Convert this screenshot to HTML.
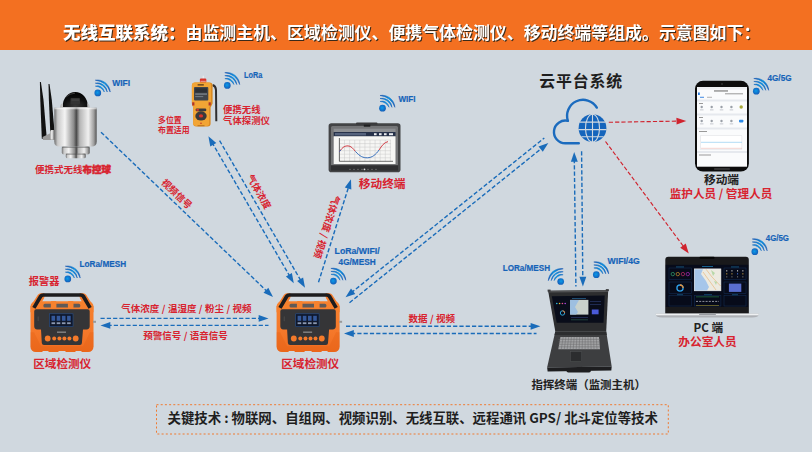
<!DOCTYPE html>
<html lang="zh-CN"><head><meta charset="utf-8"><title>无线互联系统</title>
<style>
html,body{margin:0;padding:0;background:#D0D8DF;}
body{width:812px;height:452px;overflow:hidden;position:relative;font-family:"Liberation Sans","Noto Sans CJK SC",sans-serif;}
svg{display:block;position:absolute;left:0;top:0}
</style></head><body>
<svg width="812" height="452" viewBox="0 0 812 452">
<defs>
<radialGradient id="wg" cx="0.45" cy="0.45" r="0.6"><stop offset="0" stop-color="#0A9BEA"/><stop offset="1" stop-color="#1458B4"/></radialGradient>
<linearGradient id="wa" gradientUnits="userSpaceOnUse" x1="-2" y1="-11" x2="11" y2="-1"><stop offset="0" stop-color="#1558B2"/><stop offset="0.5" stop-color="#0C8CDC"/><stop offset="1" stop-color="#1558B2"/></linearGradient>
<linearGradient id="sil" x1="0" x2="1" y1="0" y2="0"><stop offset="0" stop-color="#6e6e6e"/><stop offset="0.08" stop-color="#c9c9c9"/><stop offset="0.25" stop-color="#f4f4f4"/><stop offset="0.46" stop-color="#8a8a8a"/><stop offset="0.52" stop-color="#4a4a4a"/><stop offset="0.6" stop-color="#b5b5b5"/><stop offset="0.8" stop-color="#f0f0f0"/><stop offset="0.93" stop-color="#a0a0a0"/><stop offset="1" stop-color="#555"/></linearGradient>
<linearGradient id="org" x1="0" x2="0" y1="0" y2="1"><stop offset="0" stop-color="#F6822E"/><stop offset="0.6" stop-color="#F5782A"/><stop offset="1" stop-color="#EF6C20"/></linearGradient>
<radialGradient id="dome" cx="0.5" cy="0.9" r="0.9"><stop offset="0" stop-color="#3a3a3a"/><stop offset="0.5" stop-color="#111"/><stop offset="1" stop-color="#000"/></radialGradient>
</defs>
<rect x="0" y="0" width="812" height="50" fill="#F37021"/>
<text x="63" y="38.8" fill="#fff" style="filter:drop-shadow(1.1px 1.1px 0px #3a2a1a)" font-family='"Noto Sans CJK SC","Liberation Sans",sans-serif'><tspan font-size="17.5" font-weight="900">无线互联系统：</tspan><tspan font-size="16.92" font-weight="700">由监测主机、区域检测仪、便携气体检测仪、移动终端等组成。示意图如下：</tspan></text>
<line x1="101.0" y1="132.2" x2="267.9" y2="292.2" stroke="#1A6CBA" stroke-width="1.4" stroke-dasharray="4.2 2.1"/><polygon points="273.0,297.0 263.5,292.7 268.3,287.7" fill="#1A6CBA"/>
<line x1="211.9" y1="142.3" x2="290.3" y2="277.1" stroke="#1A6CBA" stroke-width="1.4" stroke-dasharray="4.2 2.1"/><polygon points="208.4,136.2 216.3,142.9 210.3,146.4" fill="#1A6CBA"/><polygon points="293.8,283.2 285.9,276.5 291.9,273.0" fill="#1A6CBA"/>
<line x1="219.6" y1="140.6" x2="301.5" y2="281.7" stroke="#1A6CBA" stroke-width="1.4" stroke-dasharray="4.2 2.1"/><polygon points="305.0,287.8 297.1,281.1 303.1,277.6" fill="#1A6CBA"/>
<line x1="318.5" y1="282.3" x2="348.9" y2="185.9" stroke="#1A6CBA" stroke-width="1.4" stroke-dasharray="4.2 2.1"/><polygon points="351.0,179.2 351.3,189.6 344.8,187.5" fill="#1A6CBA"/>
<line x1="351.0" y1="292.9" x2="544.3" y2="138.0" stroke="#1A6CBA" stroke-width="1.4" stroke-dasharray="4.2 2.1"/><polygon points="345.5,297.3 351.0,288.5 355.3,293.9" fill="#1A6CBA"/>
<line x1="349.5" y1="302.7" x2="542.8" y2="147.4" stroke="#1A6CBA" stroke-width="1.4" stroke-dasharray="4.2 2.1"/><polygon points="548.3,143.0 542.8,151.8 538.5,146.4" fill="#1A6CBA"/>
<line x1="574.3" y1="159.0" x2="575.9" y2="286.5" stroke="#1A6CBA" stroke-width="1.4" stroke-dasharray="4.2 2.1"/><polygon points="574.2,152.0 577.8,161.8 570.9,161.8" fill="#1A6CBA"/>
<line x1="581.6" y1="151.3" x2="582.8" y2="279.5" stroke="#1A6CBA" stroke-width="1.4" stroke-dasharray="4.2 2.1"/><polygon points="582.9,286.5 579.4,276.7 586.3,276.7" fill="#1A6CBA"/>
<line x1="100.5" y1="318.4" x2="261.5" y2="318.4" stroke="#1A6CBA" stroke-width="1.4" stroke-dasharray="4.2 2.1"/><polygon points="268.5,318.4 258.7,321.8 258.7,314.9" fill="#1A6CBA"/>
<line x1="107.5" y1="325.4" x2="268.5" y2="325.4" stroke="#1A6CBA" stroke-width="1.4" stroke-dasharray="4.2 2.1"/><polygon points="100.5,325.4 110.3,321.9 110.3,328.8" fill="#1A6CBA"/>
<line x1="346.0" y1="326.3" x2="533.4" y2="326.3" stroke="#1A6CBA" stroke-width="1.4" stroke-dasharray="4.2 2.1"/><polygon points="540.4,326.3 530.6,329.8 530.6,322.9" fill="#1A6CBA"/>
<line x1="351.0" y1="333.5" x2="536.5" y2="333.5" stroke="#1A6CBA" stroke-width="1.4" stroke-dasharray="4.2 2.1"/><polygon points="344.0,333.5 353.8,330.1 353.8,336.9" fill="#1A6CBA"/>
<line x1="608.8" y1="122.3" x2="679.3" y2="121.1" stroke="#D0232E" stroke-width="1.15" stroke-dasharray="4.2 2.1"/><polygon points="686.3,121.0 676.6,124.6 676.4,117.7" fill="#D0232E"/>
<line x1="605.5" y1="141.5" x2="684.6" y2="247.9" stroke="#D0232E" stroke-width="1.15" stroke-dasharray="4.2 2.1"/><polygon points="688.8,253.5 680.2,247.7 685.7,243.6" fill="#D0232E"/>
<text transform="translate(176.8,193.9) rotate(43.8)" x="0" y="3.5" font-size="9.5" fill="#D8232F" font-weight="700" text-anchor="middle" word-spacing="0.3" font-family='"Noto Sans CJK SC","Liberation Sans",sans-serif'>视频信号</text>
<text transform="translate(259,191.8) rotate(60.2)" x="0" y="3.5" font-size="9.5" fill="#D8232F" font-weight="700" text-anchor="middle" word-spacing="0.3" font-family='"Noto Sans CJK SC","Liberation Sans",sans-serif'>气体浓度</text>
<text transform="translate(326.9,226.8) rotate(107.5)" x="0" y="3.5" font-size="9.5" fill="#D8232F" font-weight="700" text-anchor="middle" word-spacing="0.3" font-family='"Noto Sans CJK SC","Liberation Sans",sans-serif'>气体浓度 / 视频</text>
<text x="121.3" y="312.0" font-size="9.5" fill="#D8232F" font-weight="700" text-anchor="start" font-family='"Noto Sans CJK SC","Liberation Sans",sans-serif' word-spacing="0.3">气体浓度 / 温湿度 / 粉尘 / 视频</text>
<text x="143.2" y="338.5" font-size="9.5" fill="#D8232F" font-weight="700" text-anchor="start" font-family='"Noto Sans CJK SC","Liberation Sans",sans-serif' word-spacing="0.3">预警信号 / 语音信号</text>
<text x="408.5" y="322.0" font-size="9.5" fill="#D8232F" font-weight="700" text-anchor="start" font-family='"Noto Sans CJK SC","Liberation Sans",sans-serif' word-spacing="0.3">数据 / 视频</text>
<g>
<path d="M39.900,82 L40.900,82 L43.500,100 L46.800,138.700 L41.800,138.700 L40.300,100 Z" fill="#111"/>
<path d="M48.500,84 L49.500,84 L51.800,100 L54.600,132.700 L50.300,132.700 L48.900,100 Z" fill="#111"/>
<path d="M42.5,137 L54,131.5 L57.5,130 L58,139 L54,140 L43,140 Z" fill="#9a9a9a"/>
<rect x="50" y="130" width="8" height="9.5" rx="1.5" fill="url(#sil)"/>
<path d="M62.800,107.800 L62.800,106 A12.450,14.100 0 0 1 87.700,106 L87.700,107.800 Z" fill="url(#dome)"/>
<rect x="70.500" y="98" width="9.500" height="6.500" rx="1" fill="#333"/><rect x="71.500" y="99.500" width="7.500" height="1" fill="#4a4a4a"/><path d="M66,97 Q70,93.300 75,93.200" fill="none" stroke="#555" stroke-width="0.700"/>
<path d="M59.900,108 Q59.900,103.500 63,103.200 L63,107 L87.500,107 L87.500,103.200 Q89.700,103.500 89.700,108 Z" fill="#bdbdbd"/>
<path d="M54.300,107.800 L96.700,107.800 L96.700,141.600 Q96.700,146.600 91.700,146.600 L59.300,146.600 Q54.300,146.600 54.300,141.600 Z" fill="url(#sil)"/>
<rect x="54.300" y="107.800" width="42.400" height="1.500" fill="#fff" opacity="0.55"/>
<rect x="61.800" y="146.600" width="27.900" height="8" rx="2" fill="url(#sil)"/>
<rect x="61.800" y="146.600" width="27.900" height="1.200" fill="#555" opacity="0.6"/>
<rect x="65.800" y="153.600" width="19.900" height="4.600" rx="1.500" fill="url(#sil)"/>
<rect x="65.800" y="153.600" width="19.900" height="1" fill="#444" opacity="0.6"/>
</g>
<g transform="translate(97.5,92.7)"><circle r="3.350" cx="0.300" cy="0.200" fill="url(#wg)"/><path d="M-2.13,-6.56 A6.9,6.9 0 0 1 6.86,-0.72 A11.65,11.65 0 0 0 -2.13,-6.56 Z M-2.20,-9.55 A9.8,9.8 0 0 1 9.78,-0.68 A14.36,14.36 0 0 0 -2.20,-9.55 Z M-2.21,-12.51 A12.7,12.7 0 0 1 12.68,-0.66 A17.12,17.12 0 0 0 -2.21,-12.51 Z" fill="url(#wa)" stroke="url(#wa)" stroke-width="0.550" stroke-linejoin="round"/></g>
<text x="112.3" y="86.0" font-size="9.1" fill="#1563B8" font-weight="700" stroke="#1563B8" stroke-width="0.2" text-anchor="start" textLength="17.8" lengthAdjust="spacingAndGlyphs" font-family='"Liberation Sans",sans-serif'>WIFI</text>
<text x="35" y="172.5" font-size="9.5" fill="#D8232F" font-family='"Liberation Sans","Noto Sans CJK SC",sans-serif' font-weight="700">便携式无线<tspan font-weight="900" stroke="#D8232F" stroke-width="0.45">布控球</tspan></text>
<g>
<path d="M212.600,85 Q215.800,86 216,90 L216.300,121.300" fill="none" stroke="#2e2e30" stroke-width="2"/>
<rect x="202.700" y="75.700" width="1" height="3.200" fill="#f2f2f2"/>
<rect x="199.900" y="78.600" width="6.400" height="4.400" rx="1" fill="#D8332A"/>
<rect x="200.400" y="80.800" width="5.400" height="1" fill="#f0d8d0" opacity="0.700"/>
<path d="M195.200,82.400 L209.600,82.400 Q212.600,82.400 212.600,85.400 L212.600,103.500 L210.600,107.500 L210.600,123.600 Q210.600,126.600 207.600,126.600 L196.200,126.600 Q193.200,126.600 193.200,123.600 L193.200,107.500 L191.900,103.500 L191.900,85.400 Q191.900,82.400 195.200,82.400 Z" fill="#D98A22"/>
<path d="M195.200,82.400 L208.400,82.400 Q211,82.400 211,85.400 L211,103.500 L209.200,107.500 L209.200,123.600 Q209.200,126 206.600,126 L196.200,126 Q193.200,126 193.200,123.600 L193.200,107.500 L191.900,103.500 L191.900,85.400 Q191.900,82.400 195.200,82.400 Z" fill="#F2A535"/>
<rect x="197.600" y="84.100" width="6.200" height="1.500" fill="#6a4a20"/>
<rect x="194" y="86.900" width="14.300" height="13.700" rx="1" fill="#40454b"/>
<rect x="195.200" y="88.300" width="11.800" height="4.300" fill="#2c3036"/>
<rect x="195.200" y="93.600" width="11.800" height="0.900" fill="#98a2aa"/>
<rect x="195.200" y="96.200" width="8" height="0.900" fill="#7a848c"/>
<rect x="192.200" y="102.300" width="2.200" height="3.200" fill="#B0342A"/><rect x="208.600" y="102.300" width="2.200" height="3.200" fill="#B0342A"/>
<rect x="195.600" y="108.600" width="10.700" height="2.600" rx="1.200" fill="#3a3a3c"/>
<rect x="196.200" y="109.100" width="2.800" height="1.600" rx="0.800" fill="#D8332A"/>
<ellipse cx="201" cy="115.900" rx="5.700" ry="4.600" fill="#3a3a3c"/>
<ellipse cx="201" cy="115.900" rx="2.100" ry="1.700" fill="#D8332A"/>
<circle cx="201" cy="123.200" r="0.800" fill="#C8372c"/>
<rect x="197.500" y="125.200" width="7" height="1" fill="#B8701c"/>
</g>
<g transform="translate(227,85.2)"><circle r="3.350" cx="0.300" cy="0.200" fill="url(#wg)"/><path d="M-2.13,-6.56 A6.9,6.9 0 0 1 6.86,-0.72 A11.65,11.65 0 0 0 -2.13,-6.56 Z M-2.20,-9.55 A9.8,9.8 0 0 1 9.78,-0.68 A14.36,14.36 0 0 0 -2.20,-9.55 Z M-2.21,-12.51 A12.7,12.7 0 0 1 12.68,-0.66 A17.12,17.12 0 0 0 -2.21,-12.51 Z" fill="url(#wa)" stroke="url(#wa)" stroke-width="0.550" stroke-linejoin="round"/></g>
<text x="244" y="78.2" font-size="9.1" fill="#1563B8" font-weight="700" stroke="#1563B8" stroke-width="0.2" text-anchor="start" textLength="18.2" lengthAdjust="spacingAndGlyphs" font-family='"Liberation Sans",sans-serif'>LoRa</text>
<text x="223" y="113.0" font-size="9.4" fill="#D8232F" font-weight="700" text-anchor="start" font-family='"Liberation Sans","Noto Sans CJK SC",sans-serif'>便携无线</text>
<text x="223" y="123.8" font-size="9.4" fill="#D8232F" font-weight="700" text-anchor="start" font-family='"Liberation Sans","Noto Sans CJK SC",sans-serif'>气体探测仪</text>
<text x="158" y="122.9" font-size="7.9" fill="#D8232F" font-weight="700" text-anchor="start" font-family='"Liberation Sans","Noto Sans CJK SC",sans-serif'>多位置</text>
<text x="158" y="132.6" font-size="7.9" fill="#D8232F" font-weight="700" text-anchor="start" font-family='"Liberation Sans","Noto Sans CJK SC",sans-serif'>布置适用</text>
<g>
<rect x="328.600" y="123.300" width="71.900" height="48.900" rx="2.800" fill="#434446"/>
<rect x="331" y="126" width="67" height="43.500" rx="1.500" fill="#747577"/>
<rect x="356" y="122.500" width="21.500" height="2.200" rx="1" fill="#3a3a3c"/><rect x="363.800" y="124.600" width="6.500" height="2.100" fill="#1e1e20"/>
<rect x="333.700" y="128.700" width="61.800" height="3.500" fill="#8d8f92"/>
<rect x="333.700" y="132" width="61.800" height="4.400" fill="#27324a"/>
<rect x="335" y="133" width="31" height="2.400" fill="#55627c"/>
<g fill="#e8eaee"><rect x="374" y="133.200" width="2.600" height="2"/><rect x="379" y="133.200" width="2.600" height="2"/><rect x="384" y="133.200" width="2.600" height="2"/><rect x="389" y="133.200" width="4" height="2"/></g>
<rect x="333.700" y="136.300" width="61.800" height="27.700" fill="#f6f6f4"/>
<path d="M339.4,140 V161.300 M344.5,140 V161.300 M349.6,140 V161.300 M354.7,140 V161.300 M359.8,140 V161.300 M364.9,140 V161.300 M370.0,140 V161.300 M375.1,140 V161.300 M380.2,140 V161.300 M385.3,140 V161.300 M390.4,140 V161.300 M339.400,140.0 H391 M339.400,143.6 H391 M339.400,147.1 H391 M339.400,150.7 H391 M339.400,154.2 H391 M339.400,157.8 H391 " stroke="#c9c9c9" stroke-width="0.5" fill="none"/>
<path d="M339.400,138 V161.300 H393" stroke="#333" stroke-width="0.7" fill="none"/>
<path d="M339.400,151.700 C343,146.500 345,145.900 348,145.900 C351,145.900 353,148.500 355.500,151.500" fill="none" stroke="#D0343c" stroke-width="0.950"/>
<path d="M355.500,151.500 C360,156.500 363,157.800 367.400,157.800 C372,157.800 376,154.500 379,150" fill="none" stroke="#2C68B8" stroke-width="0.950"/>
<path d="M339.400,151.700 L340.800,149.800" fill="none" stroke="#2C68B8" stroke-width="0.950"/>
<path d="M379,150 C382,145.500 384,142.500 388,141.600" fill="none" stroke="#D0343c" stroke-width="0.950"/>
<rect x="331" y="165.200" width="67" height="5.400" fill="#2f2f31"/>
<g fill="#8a8a8a"><circle cx="350" cy="169.300" r="0.600"/><circle cx="354" cy="169.300" r="0.600"/><circle cx="358" cy="169.300" r="0.600"/><circle cx="362" cy="169.300" r="0.600"/><circle cx="364.500" cy="169.300" r="0.900" fill="#ddd"/><circle cx="368" cy="169.300" r="0.600"/><circle cx="372" cy="169.300" r="0.600"/><circle cx="376" cy="169.300" r="0.600"/></g>
</g>
<g transform="translate(382.2,108)"><circle r="3.350" cx="0.300" cy="0.200" fill="url(#wg)"/><path d="M-2.13,-6.56 A6.9,6.9 0 0 1 6.86,-0.72 A11.65,11.65 0 0 0 -2.13,-6.56 Z M-2.20,-9.55 A9.8,9.8 0 0 1 9.78,-0.68 A14.36,14.36 0 0 0 -2.20,-9.55 Z M-2.21,-12.51 A12.7,12.7 0 0 1 12.68,-0.66 A17.12,17.12 0 0 0 -2.21,-12.51 Z" fill="url(#wa)" stroke="url(#wa)" stroke-width="0.550" stroke-linejoin="round"/></g>
<text x="398.5" y="102.2" font-size="9.1" fill="#1563B8" font-weight="700" stroke="#1563B8" stroke-width="0.2" text-anchor="start" textLength="17.0" lengthAdjust="spacingAndGlyphs" font-family='"Liberation Sans",sans-serif'>WIFI</text>
<text x="358.8" y="187.8" font-size="11.7" fill="#D8232F" font-weight="700" text-anchor="start" font-family='"Liberation Sans","Noto Sans CJK SC",sans-serif'>移动终端</text>
<text x="539.2" y="87.4" font-size="15.9" fill="#1e1e1e" font-weight="700" text-anchor="start" font-family='"Liberation Sans","Noto Sans CJK SC",sans-serif' letter-spacing="0.85">云平台系统</text>
<path d="M578.800,143.300 L565.250,143.300 A11.350,11.350 0 1 1 567.900,120.900 A16,16 0 0 1 596.800,107.600" fill="none" stroke="#1B6BBE" stroke-width="2.400" stroke-linecap="round" stroke-linejoin="round"/>
<circle cx="592.500" cy="128.200" r="13.900" fill="#1565BC"/>
<g fill="none" stroke="#D0D8DF" stroke-width="1.100"><path d="M592.500,114 V142.400 M578.500,129.600 H606.500 M579.500,122.100 H605.500 M581.500,136.700 H603.500"/><ellipse cx="592.500" cy="128.200" rx="7" ry="13.900"/></g>
<g>
<rect x="695" y="80.800" width="53.900" height="90.700" rx="8" fill="#0c0c0c"/>
<rect x="697" y="87" width="50" height="79.700" fill="#fafbfc"/>
<circle cx="722" cy="84" r="0.700" fill="#555"/>
<g fill="#e6e9ee"><rect x="697" y="99.500" width="50" height="2"/><rect x="697" y="113.500" width="50" height="2"/><rect x="697" y="127.500" width="50" height="2"/><rect x="697" y="151" width="50" height="2"/></g>
<rect x="697" y="87" width="50" height="2.500" fill="#eef0f3"/>
<rect x="714" y="90.300" width="14" height="1.300" fill="#888"/>
<rect x="698" y="92.500" width="1.800" height="2.500" fill="#2b7de0"/>
<g fill="#999"><rect x="725" y="93.300" width="18" height="1"/></g>
<rect x="700" y="96.800" width="4" height="0.900" fill="#2b7de0"/><rect x="707" y="96.800" width="5" height="0.900" fill="#aaa"/>
<rect x="699" y="103" width="4" height="1" fill="#999"/><rect x="699" y="117" width="4" height="1" fill="#999"/><rect x="699" y="131" width="8" height="1" fill="#999"/><rect x="699" y="154.500" width="12" height="1" fill="#999"/>
<g fill="#9aa0a8"><circle cx="701.700" cy="107" r="1.200"/><circle cx="711.700" cy="107" r="1.200"/><circle cx="721.500" cy="107" r="1.200"/><circle cx="731.400" cy="107" r="1.200"/><circle cx="701.700" cy="121" r="1.200"/><circle cx="711.700" cy="121" r="1.200"/><circle cx="721.500" cy="121" r="1.200"/><circle cx="731.400" cy="121" r="1.200"/></g>
<g fill="#b8bcc4"><rect x="700" y="109.500" width="3.500" height="0.800"/><rect x="710" y="109.500" width="3.500" height="0.800"/><rect x="719.800" y="109.500" width="3.500" height="0.800"/><rect x="729.700" y="109.500" width="3.500" height="0.800"/><rect x="700" y="123.500" width="3.500" height="0.800"/><rect x="710" y="123.500" width="3.500" height="0.800"/><rect x="719.800" y="123.500" width="3.500" height="0.800"/><rect x="729.700" y="123.500" width="3.500" height="0.800"/></g>
<circle cx="741.200" cy="107" r="1.700" fill="#a8a838"/>
<rect x="739" y="119.800" width="4.400" height="2.600" rx="0.800" fill="#2b8ae8"/>
<rect x="700.800" y="135.800" width="41.100" height="13.500" fill="#fff" stroke="#d5d8dc" stroke-width="0.400"/>
<path d="M701,142.300 H742" stroke="#7cc4ee" stroke-width="0.600"/>
<path d="M701,148.300 H742" stroke="#e8a8a0" stroke-width="0.500"/>
<rect x="714" y="168.600" width="16" height="0.800" rx="0.400" fill="#555"/>
</g>
<g transform="translate(756,91)"><circle r="3.350" cx="0.300" cy="0.200" fill="url(#wg)"/><path d="M-2.13,-6.56 A6.9,6.9 0 0 1 6.86,-0.72 A11.65,11.65 0 0 0 -2.13,-6.56 Z M-2.20,-9.55 A9.8,9.8 0 0 1 9.78,-0.68 A14.36,14.36 0 0 0 -2.20,-9.55 Z M-2.21,-12.51 A12.7,12.7 0 0 1 12.68,-0.66 A17.12,17.12 0 0 0 -2.21,-12.51 Z" fill="url(#wa)" stroke="url(#wa)" stroke-width="0.550" stroke-linejoin="round"/></g>
<text x="767.5" y="81.2" font-size="9.1" fill="#1563B8" font-weight="700" stroke="#1563B8" stroke-width="0.2" text-anchor="start" textLength="24" lengthAdjust="spacingAndGlyphs" font-family='"Liberation Sans",sans-serif'>4G/5G</text>
<text x="721.5" y="184.3" font-size="11.7" fill="#222" font-weight="700" text-anchor="middle" font-family='"Liberation Sans","Noto Sans CJK SC",sans-serif'>移动端</text>
<text x="721" y="198.1" font-size="11.6" fill="#D8232F" font-weight="700" text-anchor="middle" font-family='"Noto Sans CJK SC","Liberation Sans",sans-serif'>监护人员 / 管理人员</text>
<g transform="translate(30.5,292.3)"><g>
<path d="M0,20 L0,14 L7.200,2.600 Q8.200,1 10.500,1 L14,1 L14,20 Z M63,20 L63,14 L55.800,2.600 Q54.800,1 52.500,1 L49,1 L49,20 Z" fill="#F57C2C"/>
<rect x="0" y="8.8" width="63" height="51" rx="5.500" fill="url(#org)"/>
<path d="M3.400,15.600 L10.200,4 Q11,2.700 12.800,2.700 L50.200,2.700 Q52,2.700 52.800,4 L59.600,15.600" fill="none" stroke="#1c1c1e" stroke-width="3.700" stroke-linejoin="round"/>
<path d="M14.300,4.600 L48.700,4.600 L51.200,9 L11.800,9 Z" fill="#D0D8DF"/>
<rect x="12.900" y="11.500" width="36.900" height="3.700" rx="1.500" fill="#5e5a58"/>
<rect x="20.300" y="8.800" width="5.600" height="7.400" rx="1" fill="#F6822E"/>
<rect x="37.400" y="8.800" width="5.600" height="7.400" rx="1" fill="#F6822E"/>
<path d="M5.700,16.900 L57.200,16.900 Q59.200,16.900 59.200,18.900 L59.200,34 Q59.200,37.100 56,37.100 L52.500,37.100 L51.400,50.700 Q51.300,52.700 49.300,52.700 L13.500,52.700 Q11.500,52.700 11.300,50.700 L10.500,37.100 L6.700,37.100 Q3.700,37.100 3.700,34 L3.700,18.900 Q3.700,16.900 5.700,16.900 Z" fill="#353537"/>
<rect x="19.100" y="21.500" width="23.400" height="12.900" fill="#10182c" stroke="#27508c" stroke-width="0.600"/>
<g fill="#34589a"><rect x="21" y="23.500" width="3.600" height="5"/><rect x="26.200" y="23.500" width="3.600" height="5"/><rect x="31.400" y="23.500" width="3.600" height="5"/><rect x="36.600" y="23.500" width="3.600" height="5"/></g>
<g fill="#8c98b0"><rect x="21" y="30" width="3.600" height="1.800"/><rect x="26.200" y="30" width="3.600" height="1.800"/><rect x="31.400" y="30" width="3.600" height="1.800"/><rect x="36.600" y="30" width="3.600" height="1.800"/></g>
<rect x="7" y="24" width="1.500" height="5" rx="0.700" fill="#444"/>
<rect x="26.500" y="39.300" width="9" height="1.100" fill="#9a9a9a"/>
<g fill="#F47A2A"><circle cx="17.200" cy="46.200" r="2.900"/><circle cx="23.700" cy="46.200" r="2"/><circle cx="28.900" cy="46.200" r="2"/><circle cx="33.900" cy="46.200" r="2"/><circle cx="38.900" cy="46.200" r="2"/><circle cx="45.200" cy="46.200" r="2.900"/></g>
<path d="M0,40 L3.500,40 L10.500,54 L52.500,54 L59.500,40 L63,40 L63,54 Q63,59.800 57.500,59.800 L5.500,59.800 Q0,59.800 0,54 Z" fill="#E05A10" opacity="0.280"/>
<rect x="62.500" y="28.500" width="3" height="2" fill="#999"/>
<g fill="#D0D8DF"><rect x="12" y="58.700" width="6" height="1.500"/><rect x="28" y="58.700" width="7" height="1.500"/><rect x="45" y="58.700" width="6" height="1.500"/></g>
</g></g>
<g transform="translate(276.6,292.3)"><g>
<path d="M0,20 L0,14 L7.200,2.600 Q8.200,1 10.500,1 L14,1 L14,20 Z M63,20 L63,14 L55.800,2.600 Q54.800,1 52.500,1 L49,1 L49,20 Z" fill="#F57C2C"/>
<rect x="0" y="8.8" width="63" height="51" rx="5.500" fill="url(#org)"/>
<path d="M3.400,15.600 L10.200,4 Q11,2.700 12.800,2.700 L50.200,2.700 Q52,2.700 52.800,4 L59.600,15.600" fill="none" stroke="#1c1c1e" stroke-width="3.700" stroke-linejoin="round"/>
<path d="M14.300,4.600 L48.700,4.600 L51.200,9 L11.800,9 Z" fill="#D0D8DF"/>
<rect x="12.900" y="11.500" width="36.900" height="3.700" rx="1.500" fill="#5e5a58"/>
<rect x="20.300" y="8.800" width="5.600" height="7.400" rx="1" fill="#F6822E"/>
<rect x="37.400" y="8.800" width="5.600" height="7.400" rx="1" fill="#F6822E"/>
<path d="M5.700,16.900 L57.200,16.900 Q59.200,16.900 59.200,18.900 L59.200,34 Q59.200,37.100 56,37.100 L52.500,37.100 L51.400,50.700 Q51.300,52.700 49.300,52.700 L13.500,52.700 Q11.500,52.700 11.300,50.700 L10.500,37.100 L6.700,37.100 Q3.700,37.100 3.700,34 L3.700,18.900 Q3.700,16.900 5.700,16.900 Z" fill="#353537"/>
<rect x="19.100" y="21.500" width="23.400" height="12.900" fill="#10182c" stroke="#27508c" stroke-width="0.600"/>
<g fill="#34589a"><rect x="21" y="23.500" width="3.600" height="5"/><rect x="26.200" y="23.500" width="3.600" height="5"/><rect x="31.400" y="23.500" width="3.600" height="5"/><rect x="36.600" y="23.500" width="3.600" height="5"/></g>
<g fill="#8c98b0"><rect x="21" y="30" width="3.600" height="1.800"/><rect x="26.200" y="30" width="3.600" height="1.800"/><rect x="31.400" y="30" width="3.600" height="1.800"/><rect x="36.600" y="30" width="3.600" height="1.800"/></g>
<rect x="7" y="24" width="1.500" height="5" rx="0.700" fill="#444"/>
<rect x="26.500" y="39.300" width="9" height="1.100" fill="#9a9a9a"/>
<g fill="#F47A2A"><circle cx="17.200" cy="46.200" r="2.900"/><circle cx="23.700" cy="46.200" r="2"/><circle cx="28.900" cy="46.200" r="2"/><circle cx="33.900" cy="46.200" r="2"/><circle cx="38.900" cy="46.200" r="2"/><circle cx="45.200" cy="46.200" r="2.900"/></g>
<path d="M0,40 L3.500,40 L10.500,54 L52.500,54 L59.500,40 L63,40 L63,54 Q63,59.800 57.500,59.800 L5.500,59.800 Q0,59.800 0,54 Z" fill="#E05A10" opacity="0.280"/>
<rect x="62.500" y="28.500" width="3" height="2" fill="#999"/>
<g fill="#D0D8DF"><rect x="12" y="58.700" width="6" height="1.500"/><rect x="28" y="58.700" width="7" height="1.500"/><rect x="45" y="58.700" width="6" height="1.500"/></g>
</g></g>
<text x="33.2" y="368.3" font-size="11.6" fill="#D8232F" font-weight="700" text-anchor="start" font-family='"Liberation Sans","Noto Sans CJK SC",sans-serif'>区域检测仪</text>
<text x="281.2" y="368.1" font-size="11.6" fill="#D8232F" font-weight="700" text-anchor="start" font-family='"Liberation Sans","Noto Sans CJK SC",sans-serif'>区域检测仪</text>
<text x="28.8" y="284.5" font-size="10.2" fill="#D8232F" font-weight="700" text-anchor="start" font-family='"Liberation Sans","Noto Sans CJK SC",sans-serif'>报警器</text>
<g transform="translate(67.5,278.7)"><circle r="3.350" cx="0.300" cy="0.200" fill="url(#wg)"/><path d="M-2.13,-6.56 A6.9,6.9 0 0 1 6.86,-0.72 A11.65,11.65 0 0 0 -2.13,-6.56 Z M-2.20,-9.55 A9.8,9.8 0 0 1 9.78,-0.68 A14.36,14.36 0 0 0 -2.20,-9.55 Z M-2.21,-12.51 A12.7,12.7 0 0 1 12.68,-0.66 A17.12,17.12 0 0 0 -2.21,-12.51 Z" fill="url(#wa)" stroke="url(#wa)" stroke-width="0.550" stroke-linejoin="round"/></g>
<text x="79.6" y="267.0" font-size="9.1" fill="#1563B8" font-weight="700" stroke="#1563B8" stroke-width="0.2" text-anchor="start" textLength="46.5" lengthAdjust="spacingAndGlyphs" font-family='"Liberation Sans",sans-serif'>LoRa/MESH</text>
<g transform="translate(333.1,280.9)"><circle r="3.350" cx="0.300" cy="0.200" fill="url(#wg)"/><path d="M-2.13,-6.56 A6.9,6.9 0 0 1 6.86,-0.72 A11.65,11.65 0 0 0 -2.13,-6.56 Z M-2.20,-9.55 A9.8,9.8 0 0 1 9.78,-0.68 A14.36,14.36 0 0 0 -2.20,-9.55 Z M-2.21,-12.51 A12.7,12.7 0 0 1 12.68,-0.66 A17.12,17.12 0 0 0 -2.21,-12.51 Z" fill="url(#wa)" stroke="url(#wa)" stroke-width="0.550" stroke-linejoin="round"/></g>
<text x="334.6" y="254.2" font-size="9.1" fill="#1563B8" font-weight="700" stroke="#1563B8" stroke-width="0.2" text-anchor="start" textLength="45" lengthAdjust="spacingAndGlyphs" font-family='"Liberation Sans",sans-serif'>LoRa/WIFI/</text>
<text x="338.6" y="265.2" font-size="9.1" fill="#1563B8" font-weight="700" stroke="#1563B8" stroke-width="0.2" text-anchor="start" textLength="37" lengthAdjust="spacingAndGlyphs" font-family='"Liberation Sans",sans-serif'>4G/MESH</text>
<g>
<path d="M548.100,290.700 L608.200,290.100 L606.200,331.500 L555.300,331.500 Z" fill="#2c2d2f"/>
<path d="M548.100,290.700 L608.200,290.100 L608.100,292 L548.500,292.600 Z" fill="#505153"/>
<rect x="547.600" y="289.600" width="3" height="2" fill="#3a3b3d"/><rect x="605.800" y="289.100" width="3" height="2" fill="#3a3b3d"/>
<path d="M551.800,296.200 L604.700,295.600 L603.500,322.700 L556.700,322.700 Z" fill="#090d1a"/>
<rect x="570.100" y="299.900" width="18.300" height="14.700" fill="#c9d2cc"/>
<path d="M570.100,299.900 L579,299.900 L575,307 L578,312 L576,314.600 L570.100,314.600 Z" fill="#9dbfe0"/>
<circle cx="562.500" cy="313" r="2.200" fill="none" stroke="#2fb0e8" stroke-width="0.900"/>
<path d="M562.500,310.800 A2.200,2.200 0 0 1 564.700,313" fill="none" stroke="#f08030" stroke-width="0.900"/>
<g><circle cx="556.800" cy="303.500" r="0.800" fill="#30c0e0"/><circle cx="559.600" cy="303.500" r="0.800" fill="#e8c030"/><circle cx="562.400" cy="303.500" r="0.800" fill="#e85090"/><circle cx="565.200" cy="303.500" r="0.800" fill="#b048e0"/></g>
<rect x="591.800" y="309.500" width="6.800" height="4.800" fill="#4a5ad8"/>
<g fill="#2a3a6a"><rect x="590" y="301" width="11" height="0.700"/><rect x="590" y="304" width="11" height="0.700"/><rect x="571" y="317" width="17" height="0.700"/><rect x="571" y="319.500" width="17" height="0.700" fill="#2a5a4a"/><rect x="572" y="298" width="14" height="0.700" fill="#2a6a98"/></g>
<path d="M555.300,331.500 L606.200,331.500 L611.700,366.500 L547.100,367.500 Z" fill="#3d3e40"/>
<path d="M555.300,331.500 L606.200,331.500 L606.800,335 L554.500,335 Z" fill="#2c2d2f"/>
<path d="M560.400,337 L599,337 L600,349.200 L558.300,349.200 Z" fill="#a2a3a5"/>
<path d="M558.500,339.4 H600 M558.500,341.9 H600 M558.500,344.3 H600 M558.500,346.8 H600 M563.2,337 L561.3,349.200 M565.9,337 L564.3,349.200 M568.7,337 L567.2,349.200 M571.4,337 L570.2,349.200 M574.2,337 L573.2,349.200 M576.9,337 L576.2,349.200 M579.7,337 L579.1,349.200 M582.5,337 L582.1,349.200 M585.2,337 L585.1,349.200 M588.0,337 L588.1,349.200 M590.7,337 L591.1,349.200 M593.5,337 L594.0,349.200 M596.2,337 L597.0,349.200 " stroke="#6a6b6d" stroke-width="0.500" fill="none"/>
<rect x="570.500" y="351.800" width="11.200" height="9.600" fill="#2c2d2f" stroke="#565759" stroke-width="0.400"/>
<path d="M547.100,367.500 L611.700,366.500 L611.300,370.500 L547.600,371.500 Z" fill="#1e1e20"/>
<rect x="566.500" y="368.500" width="24.400" height="4" rx="1.800" fill="#1e1e20"/>
</g>
<g transform="translate(561,281.3) scale(-1,1)"><circle r="3.350" cx="0.300" cy="0.200" fill="url(#wg)"/><path d="M-2.13,-6.56 A6.9,6.9 0 0 1 6.86,-0.72 A11.65,11.65 0 0 0 -2.13,-6.56 Z M-2.20,-9.55 A9.8,9.8 0 0 1 9.78,-0.68 A14.36,14.36 0 0 0 -2.20,-9.55 Z M-2.21,-12.51 A12.7,12.7 0 0 1 12.68,-0.66 A17.12,17.12 0 0 0 -2.21,-12.51 Z" fill="url(#wa)" stroke="url(#wa)" stroke-width="0.550" stroke-linejoin="round"/></g>
<text x="502.7" y="271.2" font-size="9.1" fill="#1563B8" font-weight="700" stroke="#1563B8" stroke-width="0.2" text-anchor="start" textLength="47.3" lengthAdjust="spacingAndGlyphs" font-family='"Liberation Sans",sans-serif'>LORa/MESH</text>
<g transform="translate(596,274.5)"><circle r="3.350" cx="0.300" cy="0.200" fill="url(#wg)"/><path d="M-2.13,-6.56 A6.9,6.9 0 0 1 6.86,-0.72 A11.65,11.65 0 0 0 -2.13,-6.56 Z M-2.20,-9.55 A9.8,9.8 0 0 1 9.78,-0.68 A14.36,14.36 0 0 0 -2.20,-9.55 Z M-2.21,-12.51 A12.7,12.7 0 0 1 12.68,-0.66 A17.12,17.12 0 0 0 -2.21,-12.51 Z" fill="url(#wa)" stroke="url(#wa)" stroke-width="0.550" stroke-linejoin="round"/></g>
<text x="607.6" y="264.0" font-size="9.1" fill="#1563B8" font-weight="700" stroke="#1563B8" stroke-width="0.2" text-anchor="start" textLength="32.2" lengthAdjust="spacingAndGlyphs" font-family='"Liberation Sans",sans-serif'>WIFI/4G</text>
<text x="531.5" y="389.0" font-size="11.45" fill="#222" font-weight="700" text-anchor="start" font-family='"Liberation Sans","Noto Sans CJK SC",sans-serif'>指挥终端（监测主机）</text>
<g>
<path d="M665.300,314.200 L665.300,259.700 Q665.300,256.700 668.300,256.700 L745.800,256.700 Q748.800,256.700 748.800,259.700 L748.800,314.200 Z" fill="#19191b"/>
<rect x="665.800" y="264.800" width="82.400" height="42.200" fill="#070b1a"/>
<rect x="665.800" y="306.900" width="82.400" height="6.800" fill="#1a1a1c"/>
<rect x="699.500" y="256.700" width="15" height="2" rx="0.800" fill="#050505"/>
<rect x="694.300" y="268.900" width="26.600" height="21.900" fill="#eceae0" stroke="#f4f6f8" stroke-width="0.600"/>
<path d="M694.600,269.200 L703,269.200 L701,274 L706,281 L709,287 L707,290.500 L694.600,290.500 Z" fill="#a6c6ea"/>
<path d="M706,269.200 L712,277 L720.600,286 M703,272 L716,290" fill="none" stroke="#e8b070" stroke-width="0.600"/>
<path d="M711,270 l4,3 l-2,3 z M714,281 l3,1 l-1,3 z" fill="#b8d8a8"/>
<circle cx="680" cy="288.100" r="3.100" fill="none" stroke="#2f9fe8" stroke-width="1.300"/>
<path d="M680,285 A3.100,3.100 0 0 1 683.100,288.100" fill="none" stroke="#f09030" stroke-width="1.300"/>
<g fill="none" stroke-width="0.750" opacity="0.850"><circle cx="672.800" cy="274.100" r="1.700" stroke="#38b878"/><circle cx="677.800" cy="274.100" r="1.700" stroke="#e0a030"/><circle cx="682.900" cy="274.100" r="1.700" stroke="#e03078"/><circle cx="687.800" cy="274.100" r="1.700" stroke="#c030d0"/></g>
<g fill="none" stroke="#14305a" stroke-width="0.500"><rect x="669" y="268" width="22.500" height="11.500"/><rect x="669" y="282" width="22.500" height="11.500"/><rect x="669" y="295.600" width="22.500" height="10.400"/><rect x="694.300" y="295.600" width="26.600" height="10.400"/><rect x="724" y="268" width="22" height="11.500"/><rect x="724" y="282" width="22" height="11.500"/><rect x="724" y="295.600" width="22" height="10.400"/></g>
<g fill="#1a6a9a"><rect x="676" y="266.600" width="8" height="0.700"/><rect x="702" y="266" width="11" height="0.900"/><rect x="731" y="266.600" width="8" height="0.700"/><rect x="677" y="294.500" width="6" height="0.600"/><rect x="704" y="294.500" width="8" height="0.600"/><rect x="732" y="294.500" width="6" height="0.600"/></g>
<rect x="728.900" y="283.600" width="12.400" height="8.300" fill="#5a6ed0"/>
<g fill="#c8a040"><rect x="726.200" y="270.300" width="1.100" height="1.100" fill="#ddd"/><rect x="731.400" y="270.300" width="1.100" height="1.100" fill="#ddd"/><rect x="737" y="270.300" width="1.100" height="1.100" fill="#ddd"/><rect x="742.300" y="270.300" width="1.100" height="1.100" fill="#ddd"/><rect x="726.200" y="273.300" width="1.100" height="1.100"/><rect x="731.400" y="273.300" width="1.100" height="1.100"/><rect x="737" y="273.300" width="1.100" height="1.100" fill="#4878e0"/><rect x="742.300" y="273.300" width="1.100" height="1.100"/><rect x="726.200" y="276.300" width="1.100" height="1.100" fill="#777"/><rect x="731.400" y="276.300" width="1.100" height="1.100" fill="#777"/><rect x="737" y="276.300" width="1.100" height="1.100" fill="#777"/><rect x="742.300" y="276.300" width="1.100" height="1.100" fill="#777"/></g>
<rect x="696" y="296.600" width="23" height="0.600" fill="#2a8a4a"/><path d="M696,301.400 H719" stroke="#c8ccd4" stroke-width="0.700" stroke-dasharray="2 1.200"/><rect x="696" y="305" width="23" height="0.600" fill="#9a8a28"/>
<path d="M655.800,313.600 L758.600,313.600 L758.600,314.800 Q758.600,317.400 752,317.400 L662.400,317.400 Q655.800,317.400 655.800,314.800 Z" fill="#aeb1b6"/>
<rect x="655.800" y="313.600" width="102.800" height="1.700" fill="#eef0f2"/>
<rect x="699" y="313.600" width="17" height="1.300" rx="0.600" fill="#9a9da2"/>
</g>
<g transform="translate(754.5,251.5)"><circle r="3.350" cx="0.300" cy="0.200" fill="url(#wg)"/><path d="M-2.13,-6.56 A6.9,6.9 0 0 1 6.86,-0.72 A11.65,11.65 0 0 0 -2.13,-6.56 Z M-2.20,-9.55 A9.8,9.8 0 0 1 9.78,-0.68 A14.36,14.36 0 0 0 -2.20,-9.55 Z M-2.21,-12.51 A12.7,12.7 0 0 1 12.68,-0.66 A17.12,17.12 0 0 0 -2.21,-12.51 Z" fill="url(#wa)" stroke="url(#wa)" stroke-width="0.550" stroke-linejoin="round"/></g>
<text x="765.8" y="241.2" font-size="9.1" fill="#1563B8" font-weight="700" stroke="#1563B8" stroke-width="0.2" text-anchor="start" textLength="23.2" lengthAdjust="spacingAndGlyphs" font-family='"Liberation Sans",sans-serif'>4G/5G</text>
<text x="708.3" y="332.3" font-size="11.6" fill="#222" font-weight="700" text-anchor="middle" font-family='"Noto Sans CJK SC","Liberation Sans",sans-serif'>PC 端</text>
<text x="707.5" y="346.4" font-size="11.7" fill="#D8232F" font-weight="700" text-anchor="middle" font-family='"Liberation Sans","Noto Sans CJK SC",sans-serif'>办公室人员</text>
<rect x="156.500" y="404.700" width="511.800" height="29.300" fill="none" stroke="#F07A30" stroke-width="1" stroke-dasharray="2 2.200"/>
<text x="167.6" y="422.8" font-size="13.4" fill="#1e1e1e" font-weight="700" text-anchor="start" font-family='"Noto Sans CJK SC","Liberation Sans",sans-serif'>关键技术 : 物联网、自组网、视频识别、无线互联、远程通讯 GPS/ 北斗定位等技术</text>
</svg>
</body></html>
